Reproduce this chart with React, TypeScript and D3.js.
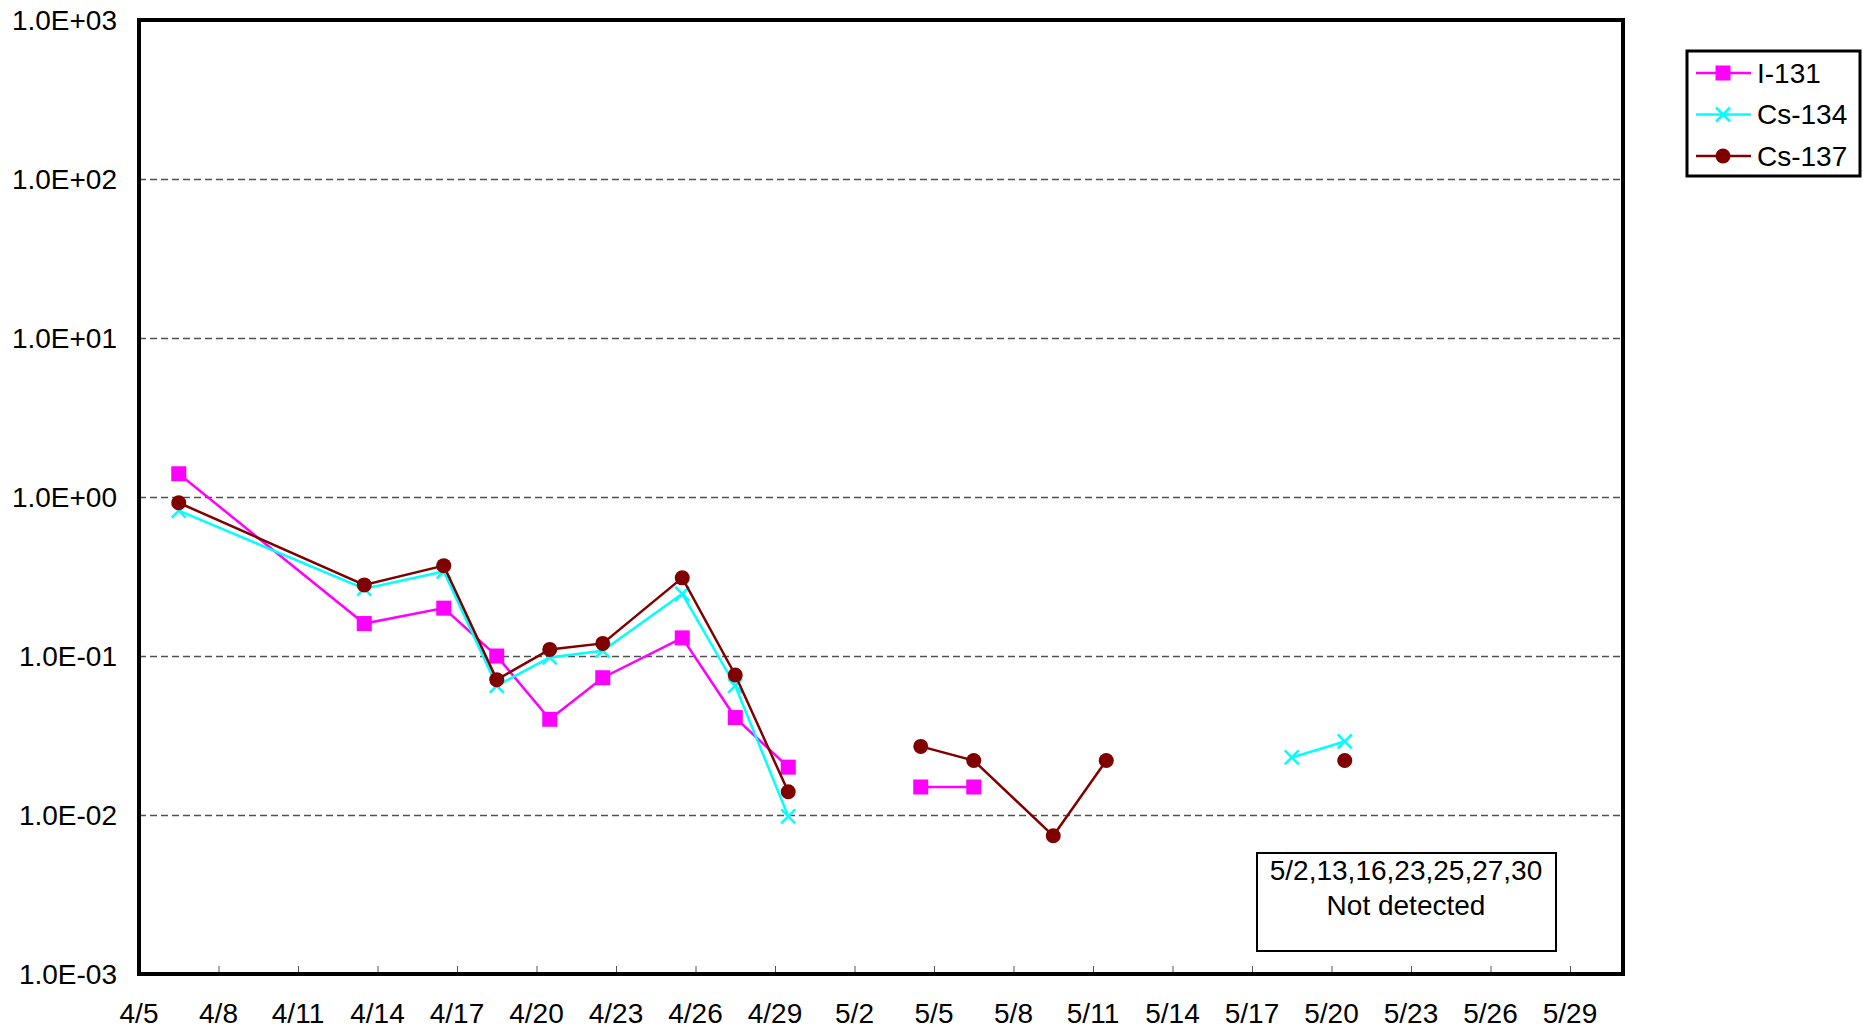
import React from "react";
import * as d3 from "d3";

const YEAR = 2011;
const sampleDates = ["4/6","4/13","4/16","4/18","4/20","4/22","4/25","4/27","4/29","5/2","5/4","5/6","5/9","5/11","5/13","5/16","5/18","5/20","5/23","5/25","5/27","5/30"];
const i131: (number | null)[] = [1.4,0.16,0.2,0.1,0.04,0.073,0.13,0.041,0.02,null,0.015,0.015,null,null,null,null,null,null,null,null,null,null];
const cs134: (number | null)[] = [0.82,0.265,0.34,0.065,0.098,0.108,0.246,0.065,0.0098,null,null,null,null,null,null,null,0.023,0.029,null,null,null,null];
const cs137: (number | null)[] = [0.92,0.28,0.37,0.071,0.11,0.12,0.31,0.076,0.014,null,0.027,0.022,0.0074,0.022,null,null,null,0.022,null,null,null,null];
const seriesNames = ["I-131", "Cs-134", "Cs-137"];
const seriesColors = ["#FF00FF", "#00FFFF", "#800000"];
const xTickLabels = ["4/5","4/8","4/11","4/14","4/17","4/20","4/23","4/26","4/29","5/2","5/5","5/8","5/11","5/14","5/17","5/20","5/23","5/26","5/29"];
const yTickValues = [1e-3, 1e-2, 1e-1, 1, 10, 100, 1000];
const noteLines = ["5/2,13,16,23,25,27,30", "Not detected"];

const FONT = "'Liberation Sans', Arial, sans-serif";
const parse = (s: string) => {
  const [m, d] = s.split("/").map(Number);
  return new Date(YEAR, m - 1, d);
};

const L = 139, R = 1623, T = 20, B = 974;

const fmtY = (v: number) => {
  const e = Math.round(Math.log10(v));
  return `1.0E${e < 0 ? "-" : "+"}${String(Math.abs(e)).padStart(2, "0")}`;
};

function Marker({ kind, x, y, color }: { kind: number; x: number; y: number; color: string }) {
  if (kind === 0) return <rect x={x - 7.5} y={y - 7.5} width={15} height={15} fill={color} />;
  if (kind === 1)
    return (
      <path d={`M${x - 7},${y - 7}L${x + 7},${y + 7}M${x - 7},${y + 7}L${x + 7},${y - 7}`} stroke={color} strokeWidth={2.5} fill="none" />
    );
  return <circle cx={x} cy={y} r={7.5} fill={color} />;
}

export default function App() {
  const x = d3.scaleTime().domain([new Date(YEAR, 3, 5), new Date(YEAR, 4, 31)]).range([L, R]);
  const y = d3.scaleLog().domain([1e-3, 1e3]).range([B, T]);
  const px = (s: string) => x(d3.timeHour.offset(parse(s), 12));
  const allSeries = [i131, cs134, cs137];

  const line = d3
    .line<[number, number | null]>()
    .defined((d) => d[1] != null)
    .x((d) => d[0])
    .y((d) => y(d[1] as number));

  return (
    <svg width={1863} height={1033} style={{ position: "absolute", left: 0, top: 0, background: "#fff" }} fontFamily={FONT}>
      <rect x={0} y={0} width={1863} height={1033} fill="#fff" />
      {/* gridlines */}
      {yTickValues.slice(1, -1).map((v) => (
        <line key={v} x1={L} x2={R} y1={y(v) + 0.5} y2={y(v) + 0.5} stroke="#505050" strokeWidth={1.5} strokeDasharray="7,4" />
      ))}
      {/* y labels */}
      {yTickValues.map((v) => (
        <text key={v} x={117} y={y(v)} dy="0.35em" textAnchor="end" fontSize={28} fill="#000">
          {fmtY(v)}
        </text>
      ))}
      {/* x ticks */}
      {xTickLabels.map((s) => (
        <g key={s}>
          <line x1={x(parse(s)) + 0.5} x2={x(parse(s)) + 0.5} y1={B} y2={B - 8} stroke="#555" strokeWidth={1} />
          <text x={x(parse(s))} y={1023} textAnchor="middle" fontSize={28} fill="#000">
            {s}
          </text>
        </g>
      ))}
      {/* series */}
      {allSeries.map((vals, k) => {
        const pts: [number, number | null][] = sampleDates.map((s, i) => [px(s), vals[i]]);
        return (
          <g key={k}>
            <path d={line(pts) || ""} fill="none" stroke={seriesColors[k]} strokeWidth={2.5} />
            {pts
              .filter((p) => p[1] != null)
              .map((p, i) => (
                <Marker key={i} kind={k} x={p[0]} y={y(p[1] as number)} color={seriesColors[k]} />
              ))}
          </g>
        );
      })}
      {/* frame */}
      <rect x={L} y={T} width={R - L} height={B - T} fill="none" stroke="#000" strokeWidth={4} />
      {/* note box */}
      <rect x={1257} y={853} width={299} height={98} fill="#fff" stroke="#000" strokeWidth={2} />
      {noteLines.map((t, i) => (
        <text key={i} x={1406} y={880 + i * 35} textAnchor="middle" fontSize={28} fill="#000">
          {t}
        </text>
      ))}
      {/* legend */}
      <rect x={1687} y={51} width={173} height={125} fill="#fff" stroke="#000" strokeWidth={3} />
      {seriesNames.map((n, k) => {
        const cy = 73 + k * 41.5;
        return (
          <g key={n}>
            <line x1={1696} x2={1751} y1={cy} y2={cy} stroke={seriesColors[k]} strokeWidth={2.5} />
            <Marker kind={k} x={1723} y={cy} color={seriesColors[k]} />
            <text x={1757} y={cy} dy="0.35em" fontSize={28} fill="#000">
              {n}
            </text>
          </g>
        );
      })}
    </svg>
  );
}
